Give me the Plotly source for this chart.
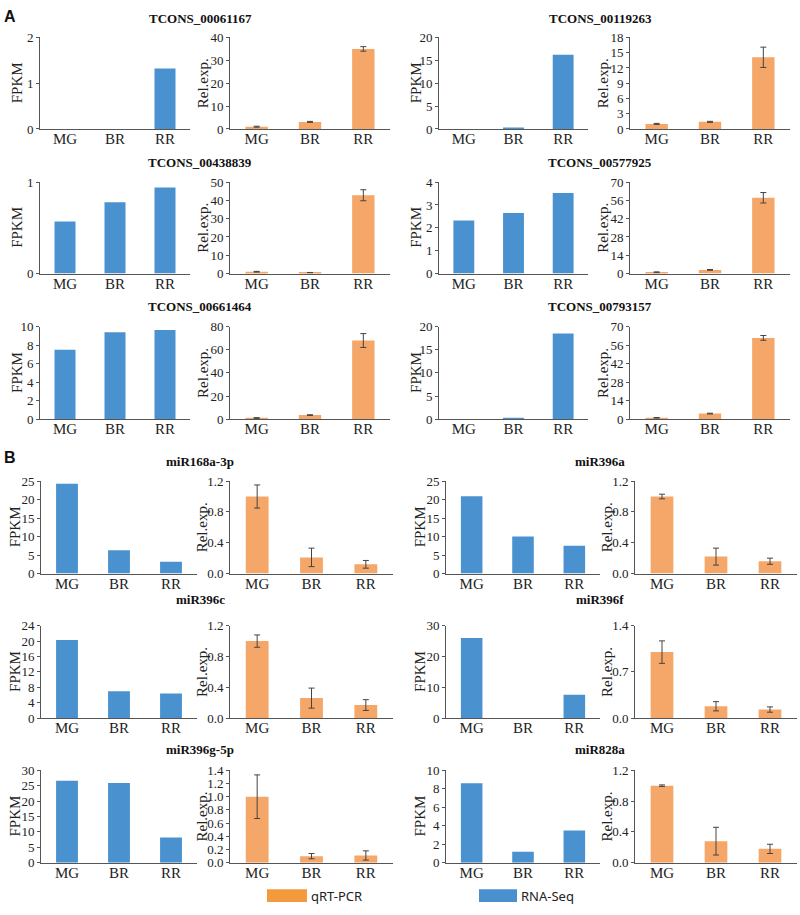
import plotly.graph_objects as go

W, H = 800, 915

stages = ["MG", "BR", "RR"]

# ---------------- Panel A (lncRNAs) ----------------
a_titles = ["TCONS_00061167", "TCONS_00119263", "TCONS_00438839",
            "TCONS_00577925", "TCONS_00661464", "TCONS_00793157"]
a_fpkm = [[0, 0, 1.32], [0, 0.2, 16.2], [0.57, 0.78, 0.94],
          [2.32, 2.65, 3.52], [7.5, 9.4, 9.65], [0, 0.3, 18.5]]
a_rel = [[1.0, 3.1, 35.0], [1.0, 1.4, 14.1], [1.0, 0.5, 42.8],
         [1.0, 2.8, 58.0], [1.0, 3.5, 68.0], [1.0, 4.2, 61.5]]
a_err = [[0.2, 0.2, 1.0], [0.1, 0.1, 2.0], [0.2, 0.1, 3.0],
         [0.3, 0.3, 4.0], [0.3, 0.3, 6.0], [0.2, 0.3, 1.8]]
a_fpkm_ticks = [[0, 1, 2], [0, 5, 10, 15, 20], [0, 1], [0, 1, 2, 3, 4],
                [0, 2, 4, 6, 8, 10], [0, 5, 10, 15, 20]]
a_rel_ticks = [[0, 10, 20, 30, 40], [0, 3, 6, 9, 12, 15, 18],
               [0, 10, 20, 30, 40, 50], [0, 14, 28, 42, 56, 70],
               [0, 20, 40, 60, 80], [0, 14, 28, 42, 56, 70]]

# ---------------- Panel B (miRNAs) ----------------
b_titles = ["miR168a-3p", "miR396a", "miR396c", "miR396f", "miR396g-5p", "miR828a"]
b_fpkm = [[24.3, 6.3, 3.2], [20.9, 10.0, 7.5], [20.3, 7.0, 6.4],
          [26.0, 0, 7.6], [26.6, 25.9, 8.2], [8.6, 1.2, 3.5]]
b_rel = [[1.0, 0.21, 0.12], [1.0, 0.22, 0.16], [1.0, 0.26, 0.17],
         [1.0, 0.18, 0.13], [1.0, 0.10, 0.11], [1.0, 0.28, 0.18]]
b_err = [[0.15, 0.12, 0.05], [0.03, 0.11, 0.04], [0.08, 0.13, 0.07],
         [0.17, 0.07, 0.04], [0.33, 0.04, 0.07], [0.01, 0.18, 0.06]]
b_fpkm_ticks = [[0, 5, 10, 15, 20, 25], [0, 5, 10, 15, 20, 25],
                [0, 4, 8, 12, 16, 20, 24], [0, 10, 20, 30],
                [0, 5, 10, 15, 20, 25, 30], [0, 2, 4, 6, 8, 10]]
b_rel_ticks = [[0, 0.4, 0.8, 1.2], [0, 0.4, 0.8, 1.2], [0, 0.4, 0.8, 1.2],
               [0, 0.7, 1.4], [0, 0.2, 0.4, 0.6, 0.8, 1.0, 1.2, 1.4],
               [0, 0.4, 0.8, 1.2]]

legend_labels = ["qRT-PCR", "RNA-Seq"]

BLUE = "#4a91cf"
ORANGE = "#f4a768"
SERIF = "Liberation Serif, Times New Roman, serif"
SANS = "Liberation Sans, Arial, sans-serif"

# layout geometry in pixels
A_cols = [((40, 190), (230, 390)), ((439, 588), (630, 790))]
A_rows = [(31, 124), (178, 271), (325, 419)]
A_title_y = [12, 158, 305]
B_cols = [((41, 197), (230, 393)), ((446, 600), (635, 797))]
B_rows = [(482, 576), (629, 723), (776, 870)]
B_title_y = [462, 602, 755]

fig = go.Figure()
layout = dict(width=W, height=H, margin=dict(l=0, r=0, t=0, b=0),
              paper_bgcolor="white", plot_bgcolor="white", showlegend=False,
              bargap=0.58)
annotations = []
shapes = []


def px(x):
    return x / W


def py(y):
    return 1 - y / H


ax_i = [0]


def add_panel(stages_, vals, err, ticks, xdom, ydom, color, tickfmt, ytitle, title_off):
    ax_i[0] += 1
    n = ax_i[0]
    xs = "x" if n == 1 else f"x{n}"
    ys = "y" if n == 1 else f"y{n}"
    kw = {}
    if err is not None:
        kw["error_y"] = dict(type="data", array=err, visible=True,
                             color="#444444", thickness=1, width=3)
    fig.add_trace(go.Bar(x=stages_, y=vals, marker=dict(color=color, line=dict(width=0)),
                         xaxis=xs, yaxis=ys, **kw))
    xname = "xaxis" if n == 1 else f"xaxis{n}"
    yname = "yaxis" if n == 1 else f"yaxis{n}"
    layout[xname] = dict(domain=[px(xdom[0]), px(xdom[1])], anchor=ys, type="category",
                         showline=True, linecolor="#555555", linewidth=1, ticks="",
                         showgrid=False, zeroline=False, ticklabelstandoff=-4,
                         tickfont=dict(family=SERIF, size=15, color="#222222"),
                         range=[-0.5, 2.5], fixedrange=True)
    layout[yname] = dict(domain=[py(ydom[1]), py(ydom[0])], anchor=xs,
                         range=[0, ticks[-1]], tickvals=ticks,
                         ticktext=[(format(t, tickfmt) if tickfmt else str(t)) for t in ticks],
                         showline=True, linecolor="#555555", linewidth=1,
                         ticks="outside", ticklen=3, tickcolor="#555555",
                         showgrid=False, zeroline=False,
                         tickfont=dict(family=SERIF, size=13, color="#222222"))
    annotations.append(dict(text=ytitle, x=px(xdom[0] - title_off), y=py((ydom[0] + ydom[1]) / 2),
                            xref="paper", yref="paper", showarrow=False, textangle=-90,
                            xanchor="center", yanchor="middle",
                            font=dict(family=SERIF, size=15, color="#222222")))


for k in range(6):
    r, c = divmod(k, 2)
    (fx, rx) = A_cols[c]
    ydom = A_rows[r]
    add_panel(stages, a_fpkm[k], None, a_fpkm_ticks[k], fx, ydom, BLUE, None, "FPKM", 23)
    add_panel(stages, a_rel[k], a_err[k], a_rel_ticks[k], rx, ydom, ORANGE, None, "Rel.exp.", 27)
    annotations.append(dict(text=f"<b>{a_titles[k]}</b>", x=px(200 + 400 * c), y=py(A_title_y[r]),
                            xref="paper", yref="paper", showarrow=False,
                            xanchor="center", yanchor="middle",
                            font=dict(family=SERIF, size=13, color="#111111")))

for k in range(6):
    r, c = divmod(k, 2)
    (fx, rx) = B_cols[c]
    ydom = B_rows[r]
    add_panel(stages, b_fpkm[k], None, b_fpkm_ticks[k], fx, ydom, BLUE, None, "FPKM", 26)
    add_panel(stages, b_rel[k], b_err[k], b_rel_ticks[k], rx, ydom, ORANGE, ".1f", "Rel.exp.", 28)
    annotations.append(dict(text=f"<b>{b_titles[k]}</b>", x=px(200 + 400 * c), y=py(B_title_y[r]),
                            xref="paper", yref="paper", showarrow=False,
                            xanchor="center", yanchor="middle",
                            font=dict(family=SERIF, size=13, color="#111111")))

# panel letters
for letter, yy in [("A", 10), ("B", 458)]:
    annotations.append(dict(text=f"<b>{letter}</b>", x=px(2), y=py(yy), xref="paper", yref="paper",
                            showarrow=False, xanchor="left", yanchor="middle",
                            font=dict(family=SANS, size=16, color="#111111")))

# legend
for (x0, x1, col, lab) in [(267, 307, "#f39b3c", legend_labels[0]), (479, 517, "#4a8fce", legend_labels[1])]:
    shapes.append(dict(type="rect", xref="paper", yref="paper", x0=px(x0), x1=px(x1),
                       y0=py(910), y1=py(897), fillcolor=col, line=dict(width=0)))
    annotations.append(dict(text=lab, x=px(x1 + 2), y=py(904), xref="paper", yref="paper",
                            showarrow=False, xanchor="left", yanchor="middle",
                            font=dict(family="Noto Sans, sans-serif", size=13, color="#222222")))

layout["annotations"] = annotations
layout["shapes"] = shapes
fig.update_layout(**layout)
fig.write_html("out.html", config={"displayModeBar": False},
               post_script="document.body.style.margin='0';document.documentElement.style.margin='0';document.body.style.overflow='hidden';")
